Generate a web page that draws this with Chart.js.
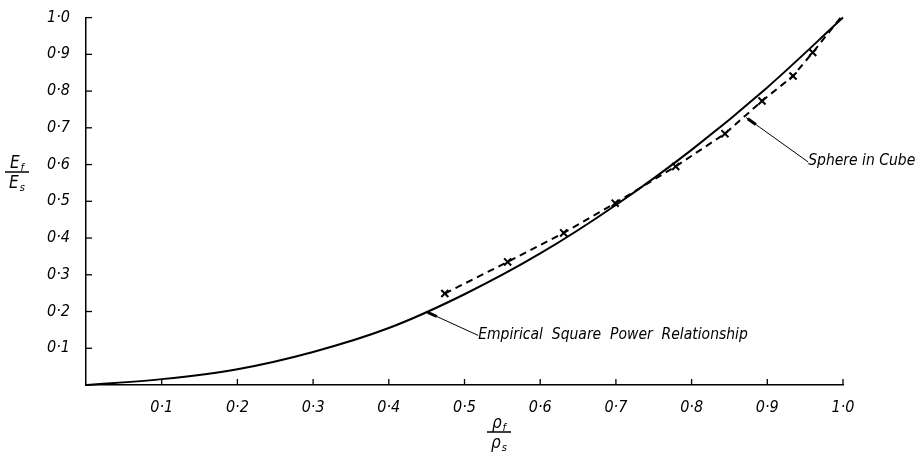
<!DOCTYPE html>
<html>
<head>
<meta charset="utf-8">
<script src="https://cdn.jsdelivr.net/npm/chart.js@4.4.1/dist/chart.umd.min.js"></script>
<style>
  html, body { margin: 0; padding: 0; background: #fff; }
  #wrap { width: 924px; height: 457px; position: relative; }
</style>
</head>
<body>
<div id="wrap"><canvas id="modulusChart"></canvas></div>
<script>
// Relative density (x) vs relative modulus (y)
const squarePowerX = [0, 0.1, 0.2, 0.3, 0.4, 0.5, 0.6, 0.7, 0.8, 0.9, 1.0];
const squarePowerY = [0, 0.016, 0.043, 0.09, 0.155, 0.247, 0.358, 0.49, 0.64, 0.81, 1.0];

const sphereX = [0.474, 0.557, 0.631, 0.699, 0.779, 0.844, 0.893, 0.934, 0.960, 0.997];
const sphereY = [0.249, 0.335, 0.414, 0.495, 0.595, 0.684, 0.773, 0.841, 0.905, 1.0];
// last dashed point is the line end, no cross drawn there
const sphereMarks = [true, true, true, true, true, true, true, true, true, false];

const xTickLabels = ['', '0·1', '0·2', '0·3', '0·4', '0·5', '0·6', '0·7', '0·8', '0·9', '1·0'];
const yTickLabels = ['', '0·1', '0·2', '0·3', '0·4', '0·5', '0·6', '0·7', '0·8', '0·9', '1·0'];

const FONT = "'Liberation Sans Narrow', 'DejaVu Sans Condensed', sans-serif";

function toPoints(xs, ys) {
    return xs.map((x, i) => ({ x: x, y: ys[i] }));
}

// Inner tick marks, leader lines, labels and fraction axis titles
const drawingExtras = {
    id: 'drawingExtras',
    afterDraw(chart) {
        const ctx = chart.ctx;
        const xs = chart.scales.x;
        const ys = chart.scales.y;
        const area = chart.chartArea;
        ctx.save();
        ctx.strokeStyle = '#000';
        ctx.fillStyle = '#000';

        // tick marks pointing into the plot
        ctx.lineWidth = 1.3;
        for (let i = 1; i < xTickLabels.length; i++) {
            const px = xs.getPixelForValue(i / 10);
            ctx.beginPath();
            ctx.moveTo(px, area.bottom);
            ctx.lineTo(px, area.bottom - 6);
            ctx.stroke();
        }
        for (let i = 1; i < yTickLabels.length; i++) {
            const py = ys.getPixelForValue(i / 10);
            ctx.beginPath();
            ctx.moveTo(area.left, py);
            ctx.lineTo(area.left + 6, py);
            ctx.stroke();
        }

        // leader lines
        function leader(fromX, fromY, toX, toY) {
            const x0 = xs.getPixelForValue(fromX), y0 = ys.getPixelForValue(fromY);
            const x1 = xs.getPixelForValue(toX), y1 = ys.getPixelForValue(toY);
            const len = Math.hypot(x1 - x0, y1 - y0);
            const ux = (x1 - x0) / len, uy = (y1 - y0) / len;
            ctx.lineWidth = 1;
            ctx.beginPath();
            ctx.moveTo(x0, y0);
            ctx.lineTo(x1, y1);
            ctx.stroke();
            ctx.lineWidth = 3;
            ctx.beginPath();
            ctx.moveTo(x0 + ux * 2, y0 + uy * 2);
            ctx.lineTo(x0 + ux * 12, y0 + uy * 12);
            ctx.stroke();
            return { x: x1, y: y1 };
        }

        ctx.font = 'italic 15.5px ' + FONT;
        ctx.textBaseline = 'middle';
        ctx.textAlign = 'left';
        let end = leader(0.449, 0.2, 0.518, 0.135);
        ctx.fillText('Empirical  Square  Power  Relationship', end.x, end.y);
        end = leader(0.872, 0.728, 0.954, 0.607);
        ctx.fillText('Sphere in Cube', end.x, end.y - 1);

        // symbol with a subscript, centred on cx
        function subscripted(sym, sub, cx, baseY) {
            ctx.font = 'italic 17px ' + FONT;
            const w1 = ctx.measureText(sym).width;
            ctx.font = 'italic 11px ' + FONT;
            const w2 = ctx.measureText(sub).width;
            const left = cx - (w1 + w2 + 1) / 2;
            ctx.textAlign = 'left';
            ctx.textBaseline = 'alphabetic';
            ctx.font = 'italic 17px ' + FONT;
            ctx.fillText(sym, left, baseY);
            ctx.font = 'italic 11px ' + FONT;
            ctx.fillText(sub, left + w1 + 1, baseY + 3);
        }

        // fraction axis titles
        function fraction(cx, lineY, top, bottom) {
            ctx.lineWidth = 1.5;
            ctx.beginPath();
            ctx.moveTo(cx - 12, lineY);
            ctx.lineTo(cx + 12, lineY);
            ctx.stroke();
            subscripted(top[0], top[1], cx, lineY - 4);
            subscripted(bottom[0], bottom[1], cx, lineY + 16);
        }
        fraction(17, 172, ['E', 'f'], ['E', 's']);
        fraction(499, 432, ['ρ', 'f'], ['ρ', 's']);
        ctx.restore();
    }
};

function initChart() {
    const ctx = document.getElementById('modulusChart');
    new Chart(ctx, {
        type: 'scatter',
        data: {
            datasets: [
                {
                    label: 'Empirical Square Power Relationship',
                    data: toPoints(squarePowerX, squarePowerY),
                    showLine: true,
                    borderColor: '#000',
                    borderWidth: 2,
                    pointRadius: 0,
                    cubicInterpolationMode: 'monotone',
                    clip: false
                },
                {
                    label: 'Sphere in Cube',
                    data: toPoints(sphereX, sphereY),
                    showLine: true,
                    borderColor: '#000',
                    borderWidth: 2,
                    borderDash: [7, 5],
                    pointStyle: 'crossRot',
                    pointRadius: sphereMarks.map(m => m ? 5 : 0),
                    pointBorderWidth: 2,
                    pointBorderColor: '#000',
                    tension: 0,
                    clip: false
                }
            ]
        },
        options: {
            responsive: true,
            maintainAspectRatio: false,
            animation: false,
            layout: { padding: { top: 15, right: 81, bottom: 0, left: 0 } },
            plugins: {
                legend: { display: false },
                tooltip: { enabled: false }
            },
            scales: {
                x: {
                    type: 'linear',
                    min: 0,
                    max: 1,
                    afterFit: (scale) => { scale.height = 72; },
                    afterBuildTicks: (scale) => {
                        scale.ticks = xTickLabels.map((t, i) => ({ value: i / 10 }));
                    },
                    grid: { display: false },
                    border: { display: true, color: '#000', width: 1.5 },
                    ticks: {
                        padding: 5,
                        color: '#000',
                        maxRotation: 0,
                        autoSkip: false,
                        font: { family: FONT, size: 16, style: 'italic' },
                        callback: (v, i) => xTickLabels[i]
                    }
                },
                y: {
                    type: 'linear',
                    min: 0,
                    max: 1,
                    afterFit: (scale) => { scale.width = 86; },
                    afterBuildTicks: (scale) => {
                        scale.ticks = yTickLabels.map((t, i) => ({ value: i / 10 }));
                    },
                    grid: { display: false },
                    border: { display: true, color: '#000', width: 1.5 },
                    ticks: {
                        padding: 8,
                        color: '#000',
                        autoSkip: false,
                        font: { family: FONT, size: 16, style: 'italic' },
                        callback: (v, i) => yTickLabels[i]
                    }
                }
            }
        },
        plugins: [drawingExtras]
    });
}

document.addEventListener('DOMContentLoaded', initChart);
</script>
</body>
</html>
